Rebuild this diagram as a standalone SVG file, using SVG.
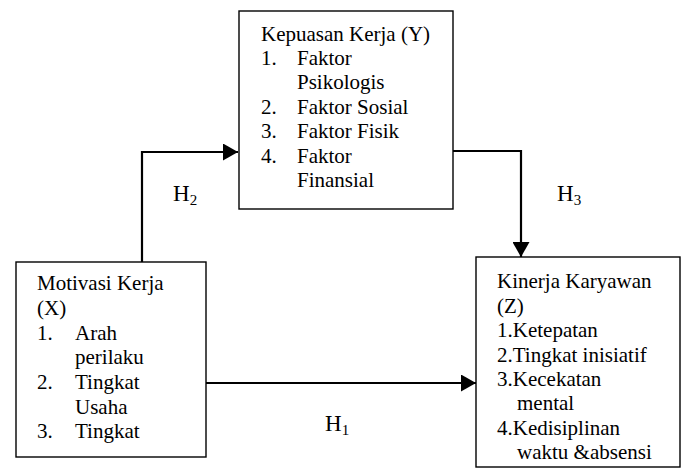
<svg xmlns="http://www.w3.org/2000/svg" width="682" height="471" viewBox="0 0 682 471">
<style>
.box{fill:#fff;stroke:#000;stroke-width:1.4}
.t{font-family:"Liberation Serif","Times New Roman",serif;font-size:21px;fill:#000}
.h{font-family:"Liberation Serif","Times New Roman",serif;font-size:23px;fill:#000}
.sub{font-size:15px}
.c{fill:none;stroke:#000;stroke-width:2.2}
</style>
<defs>
<marker id="arr" markerUnits="userSpaceOnUse" markerWidth="16" markerHeight="17" refX="15" refY="8.5" orient="auto">
<path d="M0,0 L15,8.5 L0,17 Z" fill="#000"/>
</marker>
</defs>
<rect width="682" height="471" fill="#fff"/>
<g id="connectors">
<path class="c" d="M142,262 V152 H238" marker-end="url(#arr)"/>
<path class="c" d="M453,151 H521 V257" marker-end="url(#arr)"/>
<path class="c" d="M206,383 H476" marker-end="url(#arr)"/>
</g>
<g id="node-motivasi">
<rect class="box" x="16" y="262" width="190" height="195"/>
<text class="t" x="37" y="290">Motivasi Kerja</text>
<text class="t" x="37" y="315">(X)</text>
<text class="t" x="37" y="340">1.</text><text class="t" x="75" y="340">Arah</text>
<text class="t" x="75" y="364">perilaku</text>
<text class="t" x="37" y="389">2.</text><text class="t" x="75" y="389">Tingkat</text>
<text class="t" x="75" y="414">Usaha</text>
<text class="t" x="37" y="438">3.</text><text class="t" x="75" y="438">Tingkat</text>
</g>
<g id="node-kepuasan">
<rect class="box" x="239" y="11" width="214" height="198"/>
<text class="t" x="261" y="41">Kepuasan Kerja (Y)</text>
<text class="t" x="261" y="65">1.</text><text class="t" x="297" y="65">Faktor</text>
<text class="t" x="297" y="89">Psikologis</text>
<text class="t" x="261" y="114">2.</text><text class="t" x="297" y="114">Faktor Sosial</text>
<text class="t" x="261" y="138">3.</text><text class="t" x="297" y="138">Faktor Fisik</text>
<text class="t" x="261" y="163">4.</text><text class="t" x="297" y="163">Faktor</text>
<text class="t" x="297" y="187">Finansial</text>
</g>
<g id="node-kinerja">
<rect class="box" x="476" y="257" width="204" height="210"/>
<text class="t" x="497" y="288">Kinerja Karyawan</text>
<text class="t" x="497" y="313">(Z)</text>
<text class="t" x="497" y="337">1.Ketepatan</text>
<text class="t" x="497" y="362">2.Tingkat inisiatif</text>
<text class="t" x="497" y="386">3.Kecekatan</text>
<text class="t" x="517" y="410">mental</text>
<text class="t" x="497" y="435">4.Kedisiplinan</text>
<text class="t" x="517" y="459">waktu &amp;absensi</text>
</g>
<g id="labels">
<text class="h" x="173" y="201">H<tspan class="sub" dy="4">2</tspan></text>
<text class="h" x="557" y="201">H<tspan class="sub" dy="4">3</tspan></text>
<text class="h" x="325" y="431">H<tspan class="sub" dy="4">1</tspan></text>
</g>
</svg>
